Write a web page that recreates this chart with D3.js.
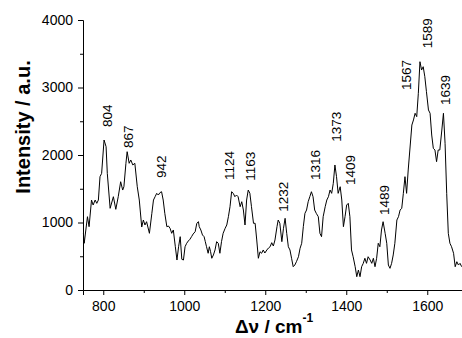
<!DOCTYPE html>
<html lang="en">
<head>
  <meta charset="UTF-8">
  <title>Raman spectrum</title>
  <script src="https://d3js.org/d3.v7.min.js"></script>
  <style>
    body { margin: 0; background: #fff; }
    svg { display: block; font-family: Arial, "Liberation Sans", sans-serif; }
  </style>
</head>
<body>
  <script>
    // spectrum
    const shift = [
      751, 753, 761, 765, 771, 775, 780, 784, 788, 792, 796, 802, 807, 810, 817, 825, 831, 837, 843, 848,
      851, 856, 859, 864, 868, 873, 878, 884, 889, 895, 899, 903, 907, 914, 920, 924, 928, 932, 936, 940,
      944, 948, 952, 957, 961, 965, 969, 973, 978, 982, 986, 990, 994, 998, 1002, 1006, 1010, 1014, 1018, 1022,
      1027, 1031, 1035, 1037, 1041, 1045, 1049, 1052, 1055, 1059, 1062, 1065, 1068, 1072, 1076, 1080, 1084, 1088, 1092, 1096,
      1101, 1105, 1109, 1113, 1117, 1121, 1125, 1129, 1133, 1138, 1142, 1146, 1150, 1154, 1158, 1162, 1166, 1171, 1175, 1179,
      1183, 1187, 1191, 1195, 1199, 1204, 1208, 1212, 1216, 1220, 1224, 1229, 1232, 1236, 1241, 1245, 1249, 1253, 1257, 1261,
      1265, 1269, 1273, 1277, 1282, 1286, 1290, 1294, 1298, 1302, 1306, 1310, 1314, 1318, 1322, 1326, 1331, 1335, 1339, 1343,
      1348, 1352, 1356, 1360, 1364, 1368, 1372, 1376, 1380, 1385, 1389, 1393, 1397, 1401, 1405, 1409, 1413, 1417, 1422, 1426,
      1430, 1434, 1438, 1442, 1446, 1450, 1454, 1459, 1463, 1467, 1471, 1475, 1479, 1483, 1487, 1491, 1496, 1500, 1504, 1508,
      1512, 1516, 1520, 1525, 1529, 1533, 1537, 1541, 1545, 1549, 1553, 1557, 1562, 1566, 1570, 1574, 1578, 1582, 1586, 1590,
      1594, 1598, 1603, 1607, 1611, 1615, 1619, 1623, 1627, 1631, 1636, 1640, 1644, 1648, 1652, 1656, 1660, 1665, 1669, 1673,
      1677, 1681, 1685
    ];
    const intensity = [
      840, 692, 1086, 938, 1333, 1259, 1333, 1284, 1333, 1679, 1728, 2222, 2123, 1728, 1210, 1382, 1195, 1382, 1604, 1481,
      1530, 1877, 2049, 1877, 1926, 1852, 1877, 1530, 1333, 933, 1037, 963, 1012, 840, 1136, 1333, 1382, 1432, 1407, 1442,
      1456, 1333, 1136, 938, 948, 914, 840, 889, 641, 444, 641, 790, 455, 444, 641, 692, 726, 751, 790, 830,
      864, 988, 1012, 938, 889, 815, 790, 716, 641, 544, 641, 568, 470, 519, 593, 716, 692, 544, 716, 840,
      914, 963, 1086, 1234, 1456, 1432, 1382, 1407, 1382, 1234, 1308, 1185, 963, 1333, 1481, 1432, 1234, 988, 988, 741,
      470, 567, 544, 593, 548, 593, 622, 641, 701, 652, 741, 938, 1037, 988, 716, 914, 1062, 840, 641, 593,
      470, 345, 370, 419, 493, 618, 692, 938, 1136, 1185, 1308, 1382, 1456, 1382, 1185, 1136, 1086, 840, 790, 1086,
      1234, 1333, 1382, 1481, 1432, 1580, 1852, 1679, 1432, 1530, 1333, 938, 1086, 1259, 1284, 1086, 593, 493, 345, 197,
      296, 197, 345, 395, 470, 395, 493, 444, 395, 470, 345, 470, 692, 641, 889, 1012, 840, 692, 370, 321,
      395, 519, 692, 1037, 1086, 1185, 1210, 1432, 1679, 1432, 1778, 2074, 2444, 2519, 2618, 2568, 2914, 3382, 3259, 3308,
      3160, 2938, 2667, 2618, 2296, 2099, 2074, 1901, 2074, 2074, 2370, 2618, 2173, 1432, 840, 692, 641, 544, 345, 419,
      370, 395, 345
    ];

    // peak labels: text, where the label sits (wavenumber, intensity of its lower end)
    const peakText = ["804", "867", "942", "1124", "1163", "1232", "1316", "1373", "1409", "1489", "1567", "1589", "1639"];
    const peakX = [809, 861, 944, 1110, 1164, 1245, 1323, 1375, 1409, 1493, 1549, 1599, 1644];
    const peakY = [2415, 2104, 1659, 1630, 1619, 1160, 1630, 2197, 1556, 1111, 2963, 3581, 2741];

    const xTicks = [800, 1000, 1200, 1400, 1600];
    const xMinor = [900, 1100, 1300, 1500, 1700];
    const yTicks = [0, 1000, 2000, 3000, 4000];
    const yMinor = [500, 1500, 2500, 3500];

    const width = 462, height = 338;
    const x = d3.scaleLinear().domain([750, 1700]).range([83, 467.75]);
    const y = d3.scaleLinear().domain([0, 4000]).range([290, 20]);

    const svg = d3.select("body").append("svg")
      .attr("width", width)
      .attr("height", height);

    // y axis
    const gy = svg.append("g").attr("transform", "translate(83,0)");
    gy.call(d3.axisLeft(y).tickValues(yTicks).tickSize(5).tickPadding(5).tickFormat(d3.format("d")));
    gy.append("g").call(d3.axisLeft(y).tickValues(yMinor).tickSize(3).tickFormat(""))
      .select(".domain").remove();

    // x axis
    const gx = svg.append("g").attr("transform", "translate(0,290)");
    gx.call(d3.axisBottom(x).tickValues(xTicks).tickSize(5).tickPadding(6).tickFormat(d3.format("d")));
    gx.append("g").call(d3.axisBottom(x).tickValues(xMinor).tickSize(3).tickFormat(""))
      .select(".domain").remove();

    svg.selectAll(".domain").attr("stroke", "#000").attr("stroke-width", 1);
    svg.selectAll(".tick line").attr("stroke", "#000");
    svg.selectAll(".tick text")
      .attr("font-size", 14)
      .attr("font-family", "Arial, 'Liberation Sans', sans-serif")
      .attr("fill", "#000");

    // spectrum
    const pts = shift.map((s, i) => [s, intensity[i]]);
    svg.append("path")
      .datum(pts)
      .attr("fill", "none")
      .attr("stroke", "#000")
      .attr("stroke-width", 1)
      .attr("d", d3.line().x(d => x(d[0])).y(d => y(d[1])));

    // peak labels
    svg.append("g").selectAll("text")
      .data(peakText)
      .join("text")
      .attr("transform", (d, i) => `translate(${x(peakX[i])},${y(peakY[i])}) rotate(-90)`)
      .attr("dy", "0.35em")
      .attr("font-size", 13.5)
      .text(d => d);

    // axis titles
    svg.append("text")
      .attr("transform", "translate(30,127) rotate(-90)")
      .attr("text-anchor", "middle")
      .attr("font-size", 20)
      .attr("font-weight", "bold")
      .text("Intensity / a.u.");

    const xt = svg.append("text")
      .attr("x", 274)
      .attr("y", 333)
      .attr("text-anchor", "middle")
      .attr("font-size", 19)
      .attr("font-weight", "bold");
    xt.append("tspan").text("\u0394\u03bd / cm");
    xt.append("tspan").attr("dy", -11).attr("font-size", 12).text("-1");
  </script>
</body>
</html>
